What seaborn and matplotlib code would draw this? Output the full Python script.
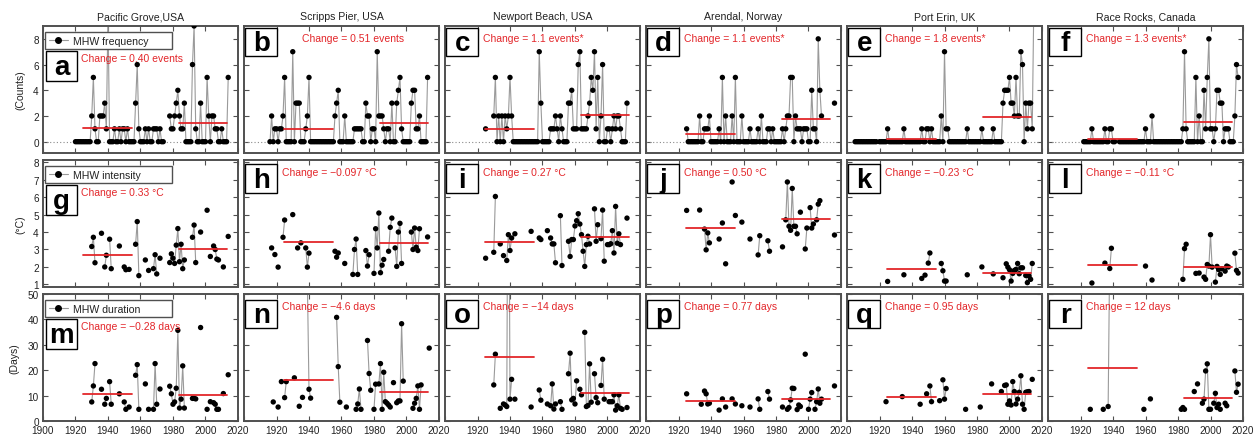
import numpy as np
import pandas as pd
import matplotlib.pyplot as plt
import seaborn as sns
from matplotlib.lines import Line2D
from matplotlib.patches import Rectangle

nan = np.nan

# ---- panel text ----
sites = ["Pacific Grove,USA", "Scripps Pier, USA", "Newport Beach, USA",
         "Arendal, Norway", "Port Erin, UK", "Race Rocks, Canada"]
letters = "abcdefghijklmnopqr"
row_legend = ["MHW frequency", "MHW intensity", "MHW duration"]
row_ylabel = ["(Counts)", "(\u00b0C)", "(Days)"]
change_freq = ["Change = 0.40 events", "Change = 0.51 events", "Change = 1.1 events*",
               "Change = 1.1 events*", "Change = 1.8 events*", "Change = 1.3 events*"]
change_int = ["Change = 0.33 \u00b0C", "Change = \u22120.097 \u00b0C", "Change = 0.27 \u00b0C",
              "Change = 0.50 \u00b0C", "Change = \u22120.23 \u00b0C", "Change = \u22120.11 \u00b0C"]
change_dur = ["Change = \u22120.28 days", "Change = \u22124.6 days", "Change = \u221214 days",
              "Change = 0.77 days", "Change = 0.95 days", "Change = 12 days"]

# ---- annual MHW counts (first year, values) ----
freq_start = [1920, 1916, 1925, 1925, 1905, 1922]
freq_a = [0, 0, 0, 0, 0, 0, 0, 0, 0, 0,
          2, 5, 1, 0, 0, 2, 2, 2, 3, 1,
          10, 0, 0, 0, 1, 0, 0, 1, 0, 1,
          1, 0, 1, 0, 0, 0, 0, 3, 6, 1,
          0, 0, 0, 1, 0, 1, 0, 0, 1, 1,
          1, 0, 1, 0, 0, nan, nan, nan, 2, 1,
          1, 2, 3, 4, 2, 1, 1, 3, 0, 0,
          0, 0, 6, 9, 1, 0, 0, 3, 0, 0,
          0, 5, 2, 0, 2, 2, 1, 1, 0, 0,
          1, 0, 0, 0, 5]
freq_b = [0, 2, 0, 1,
          1, 0, 1, 1, 2, 5, 0, 0, 0, 0,
          7, 0, 3, 3, 3, 0, 0, 0, 1, 2,
          5, 0, 0, 0, 0, 0, 0, 0, 0, 0,
          0, 0, 0, 0, 0, 0, 2, 3, 4, 0,
          0, 0, 2, 0, 0, 0, 0, 0, 1, 1,
          1, 1, 1, 0, 0, 3, 2, 2, 0, 1,
          1, 0, 7, 2, 2, 2, 1, 0, 1, 1,
          0, 3, 0, 0, 3, 4, 5, 1, 0, 0,
          0, 0, 0, 3, 4, 4, 1, 1, 2, 0,
          0, 0, 0, 5]
freq_c = [1, nan, nan, nan, nan,
          2, 5, 0, 2, 0, 2, 0, 2, 1, 2,
          5, 2, 0, 0, 0, 0, 0, 0, 0, 0,
          0, 0, 0, 0, 0, 0, 0, 0, 7, 3,
          0, 0, 0, 0, 0, 1, 1, 1, 2, 1,
          0, 2, 1, 0, 0, 0, 3, 3, 4, 1,
          1, 1, 6, 7, 1, 1, 1, 1, 2, 3,
          5, 4, 7, 1, 5, 0, 2, 6, 0, 0,
          1, 1, 0, 1, 2, 1, 2, 2, 1, 0,
          0, 0, 3]
freq_d = [1, 0, 0, 0, 0,
          0, 0, 0, 2, 0, 0, 1, 1, 1, 2,
          0, 0, 0, 0, 0, 1, 0, 5, 0, 2,
          0, 0, 0, 2, 0, 5, 0, 0, 0, 2,
          0, 0, 0, 0, 1, 0, 0, 0, 0, 1,
          0, 2, 0, 0, 0, 1, 1, 0, 1, 0,
          0, 0, 0, 0, 1, 0, 1, 2, 2, 5,
          5, 0, 2, 1, 1, 1, 0, 1, 1, 1,
          0, 0, 4, 1, 1, 0, 8, 4, 2, nan,
          nan, nan, nan, nan, nan, nan, 3]
freq_e = [0, 0, 0, 0, 0,
          0, 0, 0, 0, 0, 0, 0, 0, 0, nan,
          0, 0, 0, 0, 0, 1, 0, 0, 0, 0,
          0, 0, 0, 0, 0, 1, 0, 0, 0, 0,
          0, 0, 0, 0, 0, 0, 1, 0, 0, 1,
          1, 0, 1, 0, 0, 0, 0, 0, 2, 0,
          7, 1, 1, 0, 0, 0, 0, 0, 0, 0,
          0, 0, 0, 0, 1, 0, 0, 0, 0, 0,
          0, 0, 0, 1, 0, 0, 0, 0, 0, 0,
          1, 0, 0, 0, 0, 0, 3, 4, 4, 4,
          5, 3, 3, 2, 5, 2, 2, 7, 6, 0,
          3, 1, 3, 3, 1, 11]
freq_f = [0, 0, 0, 0, 0, 1, 0, 0,
          0, 0, 0, 0, 0, 1, 0, 0, 1, 1,
          0, 0, nan, nan, 0, 0, 0, 0, 0, 0,
          0, 0, 0, 0, 0, 0, 0, 0, 0, 0,
          1, 0, 0, 0, 2, 0, 0, 0, 0, 0,
          0, 0, 0, 0, 0, 0, 0, 0, 0, 0,
          0, 0, 0, 1, 7, 1, 0, 0, 0, 0,
          0, 5, 0, 2, 0, 0, 4, 1, 5, 8,
          1, 1, 0, 1, 4, 4, 3, 3, 0, 1,
          1, 1, 0, 0, 0, 2, 6, 5]

# ---- mean MHW intensity (deg C), years with events ----
int_g_years = [1930, 1931, 1932, 1936, 1938, 1939, 1941, 1942, 1947, 1950, 1951, 1953, 1957, 1958, 1959,
               1963, 1965, 1968, 1969, 1970, 1972, 1978, 1979, 1980, 1981, 1982, 1983, 1984, 1985, 1986,
               1987, 1992, 1993, 1994, 1997, 2001, 2003, 2005, 2006, 2007, 2008, 2011, 2014]
int_g = [3.17, 3.7, 2.24, 3.93, 2.0, 2.67, 3.59, 1.9, 3.2, 2.0, 1.84, 1.86, 3.3, 4.6, 1.5,
         2.4, 1.8, 1.9, 2.7, 1.6, 2.5, 2.25, 2.75, 2.5, 2.2, 3.25, 4.2, 2.3, 3.3, 1.9,
         2.4, 3.7, 4.4, 2.25, 4.0, 5.25, 2.6, 3.2, 3.0, 2.45, 2.4, 2.0, 3.75]
int_h_years = [1917, 1919, 1921, 1924, 1925, 1930, 1933, 1935, 1938, 1939, 1940, 1956, 1957, 1958, 1962,
               1967, 1968, 1969, 1970, 1975, 1976, 1977, 1980, 1981, 1982, 1983, 1984, 1985, 1986,
               1989, 1990, 1991, 1993, 1994, 1995, 1996, 1997, 2003, 2004, 2005, 2006, 2007, 2008, 2013]
int_h = [3.09, 2.71, 1.99, 3.7, 4.69, 5.0, 3.09, 3.38, 3.09, 1.99, 2.79, 2.9, 2.56, 2.8, 2.2,
         1.57, 3.0, 3.6, 1.57, 2.94, 2.05, 2.7, 1.63, 4.19, 3.09, 5.09, 1.67, 2.1, 2.43,
         2.9, 4.27, 4.8, 3.09, 2.03, 4.0, 4.5, 2.2, 4.0, 3.0, 4.23, 3.13, 2.94, 4.19, 3.72]
int_i_years = [1925, 1930, 1931, 1934, 1936, 1938, 1939, 1940, 1941, 1943, 1953, 1958, 1959, 1963, 1965,
               1966, 1967, 1968, 1971, 1972, 1976, 1977, 1978, 1979, 1980, 1981, 1982, 1983, 1984, 1985,
               1986, 1987, 1988, 1989, 1992, 1993, 1994, 1996, 1997, 1998, 2000, 2001, 2002, 2003, 2004,
               2005, 2006, 2007, 2008, 2012]
int_i = [2.5, 2.84, 6.04, 3.32, 2.65, 2.37, 3.85, 2.94, 3.66, 3.9, 4.04, 3.66, 3.57, 4.08, 3.66,
         3.32, 3.32, 2.24, 4.94, 2.08, 3.47, 2.6, 3.57, 3.57, 4.35, 4.65, 5.05, 4.46, 3.85, 2.9,
         2.03, 3.28, 3.76, 3.32, 5.33, 3.47, 4.42, 3.62, 5.26, 2.33, 3.28, 3.28, 3.33, 4.08, 2.8,
         5.47, 3.36, 3.9, 3.28, 4.8]
int_j_years = [1925, 1933, 1936, 1937, 1938, 1939, 1945, 1947, 1949, 1953, 1955, 1959, 1964, 1969, 1970,
               1975, 1976, 1984, 1986, 1987, 1988, 1989, 1990, 1991, 1992, 1993, 1995, 1998, 1999, 2001,
               2002, 2003, 2005, 2006, 2007, 2016]
int_j = [5.24, 5.26, 4.17, 2.98, 3.95, 3.38, 3.6, 4.52, 2.18, 6.87, 4.95, 4.57, 3.6, 2.69, 3.79,
         3.5, 2.9, 3.15, 4.7, 6.87, 4.33, 4.1, 6.5, 4.33, 4.33, 3.9, 5.14, 3.03, 4.23, 5.4,
         4.23, 4.46, 4.7, 5.6, 5.8, 3.83]
int_k_years = [1925, 1935, 1946, 1948, 1950, 1951, 1958, 1959, 1960, 1961, 1974, 1983, 1990, 1996, 1998,
               1999, 2000, 2001, 2002, 2003, 2004, 2005, 2006, 2007, 2008, 2010, 2011, 2012, 2013, 2014]
int_k = [1.17, 1.55, 1.34, 1.53, 2.22, 2.8, 2.2, 1.78, 1.19, 1.19, 1.55, 2.0, 1.6, 1.38, 2.18,
         1.99, 1.84, 1.19, 1.63, 1.8, 1.86, 2.2, 1.61, 1.95, 1.95, 1.51, 1.1, 1.48, 1.29, 2.2]
int_l_years = [1927, 1935, 1938, 1939, 1960, 1964, 1983, 1984, 1985, 1991, 1993, 1996, 1997, 1998, 1999,
               2000, 2001, 2003, 2004, 2005, 2006, 2007, 2009, 2010, 2011, 2015, 2016, 2017]
int_l = [1.08, 2.22, 1.91, 3.07, 2.05, 1.25, 1.29, 3.05, 3.3, 1.63, 1.65, 1.42, 1.29, 2.14, 2.05,
         3.85, 1.99, 1.13, 2.03, 1.85, 1.57, 1.9, 1.76, 2.05, 2.0, 2.79, 1.8, 1.65]

# ---- mean MHW duration (days), years with events ----
dur_m_years = int_g_years
dur_m = [7.5, 13.8, 22.6, 12.5, 6.6, 8.9, 15.5, 6.6, 10.7, 7.5, 4.6, 5.5, 18.0, 22.2, 4.6,
         14.6, 4.6, 4.6, 22.6, 6.6, 12.6, 13.7, 10.7, 6.6, 7.5, 12.9, 35.7, 5.1, 8.6, 21.7,
         5.1, 8.9, 8.9, 8.7, 36.8, 4.6, 7.6, 7.2, 6.6, 4.6, 4.6, 10.8, 18.2]
dur_n_years = [1918, 1921, 1923, 1925, 1926, 1931, 1934, 1936, 1939, 1940, 1941, 1957, 1958, 1959, 1963,
               1969, 1970, 1971, 1972, 1976, 1977, 1978, 1980, 1981, 1983, 1984, 1985, 1986, 1987, 1988,
               1989, 1990, 1992, 1994, 1995, 1996, 1997, 1998, 2004, 2005, 2006, 2007, 2008, 2009, 2014]
dur_n = [7.5, 5.5, 15.5, 9.2, 15.5, 17.0, 5.8, 9.3, 55.0, 12.5, 9.0, 40.8, 21.4, 7.4, 5.5,
         4.6, 6.7, 12.6, 4.6, 31.7, 18.7, 12.1, 4.6, 14.5, 14.6, 22.6, 4.6, 19.2, 7.6, 7.0,
         6.3, 5.5, 15.1, 7.2, 7.9, 7.9, 38.3, 15.7, 5.0, 7.0, 8.9, 13.8, 4.6, 14.2, 28.7]
dur_o_years = [1930, 1931, 1934, 1936, 1937, 1938, 1939, 1940, 1941, 1943, 1953, 1958, 1959, 1963, 1965,
               1966, 1967, 1968, 1971, 1972, 1976, 1977, 1978, 1979, 1980, 1981, 1983, 1984, 1986, 1987,
               1988, 1989, 1990, 1992, 1993, 1994, 1996, 1997, 1998, 2001, 2002, 2003, 2004, 2005, 2006,
               2007, 2008, 2009, 2012]
dur_o = [14.2, 26.3, 5.0, 6.7, 6.3, 5.7, 150.0, 8.6, 16.4, 8.6, 5.5, 12.2, 8.2, 6.7, 6.0,
         14.6, 4.7, 6.7, 7.6, 4.6, 18.6, 26.7, 8.3, 8.9, 6.7, 15.8, 12.5, 10.3, 34.9, 5.7,
         6.1, 22.5, 7.4, 18.6, 9.2, 7.2, 14.0, 24.3, 8.6, 7.6, 7.6, 7.6, 10.3, 4.3, 6.0,
         10.3, 5.0, 4.6, 5.3]
dur_p_years = [1925, 1934, 1936, 1937, 1938, 1939, 1945, 1947, 1949, 1953, 1955, 1959, 1964, 1969, 1970,
               1975, 1976, 1984, 1987, 1988, 1989, 1990, 1991, 1993, 1994, 1995, 1998, 2000, 2001, 2002,
               2004, 2005, 2006, 2007, 2008, 2016]
dur_p = [10.7, 6.6, 11.8, 10.7, 6.7, 7.0, 4.3, 8.7, 5.5, 8.7, 6.7, 6.0, 5.5, 8.7, 4.6,
         11.6, 8.6, 5.5, 4.6, 5.3, 8.3, 12.9, 12.8, 4.5, 6.3, 5.7, 26.3, 4.6, 8.6, 11.2,
         4.6, 7.6, 12.6, 7.0, 8.6, 13.8]
dur_q_years = [1924, 1934, 1945, 1949, 1951, 1952, 1957, 1959, 1960, 1961, 1973, 1982, 1989, 1995, 1997,
               1998, 1999, 2000, 2001, 2002, 2003, 2004, 2005, 2006, 2007, 2008, 2009, 2010, 2011, 2012,
               2014]
dur_q = [7.6, 9.6, 6.6, 10.7, 13.8, 7.6, 8.0, 16.2, 8.6, 12.8, 4.6, 5.5, 14.6, 11.6, 14.0,
         14.2, 6.6, 7.9, 6.3, 15.5, 11.6, 6.7, 8.6, 11.3, 17.8, 6.6, 4.6, 11.3, 11.5, 11.6,
         16.4]
dur_r_years = [1926, 1934, 1937, 1938, 1959, 1963, 1982, 1983, 1984, 1990, 1992, 1995, 1996, 1997, 1998,
               1999, 2000, 2002, 2003, 2004, 2005, 2006, 2009, 2010, 2015, 2016, 2017]
dur_r = [4.6, 4.6, 5.7, 69.0, 4.6, 8.7, 4.6, 5.3, 4.6, 11.6, 14.6, 7.0, 8.6, 19.7, 22.5,
         4.6, 4.6, 7.0, 10.9, 5.3, 6.6, 4.6, 7.0, 6.0, 19.7, 11.3, 14.5]

# ---- period means (1925-1954 and 1984-2013) ----
freq_early = [1.08, 0.96, 0.99, 0.60, 0.18, 0.18]
freq_late = [1.47, 1.46, 2.06, 1.74, 1.95, 1.51]
int_early = [2.67, 3.45, 3.45, 4.23, 1.89, 2.10]
int_late = [3.00, 3.36, 3.74, 4.73, 1.67, 1.97]
dur_early = [10.5, 16.2, 25.0, 8.0, 9.6, 21.0]
dur_late = [10.2, 11.6, 10.9, 8.7, 10.7, 8.9]
early_span = [1924.5, 1954.5]
late_span = [1983.5, 2013.5]

freq_vals = [freq_a, freq_b, freq_c, freq_d, freq_e, freq_f]
freq_years = [list(range(s, s + len(v))) for s, v in zip(freq_start, freq_vals)]
int_years = [int_g_years, int_h_years, int_i_years, int_j_years, int_k_years, int_l_years]
int_vals = [int_g, int_h, int_i, int_j, int_k, int_l]
dur_years = [dur_m_years, dur_n_years, dur_o_years, dur_p_years, dur_q_years, dur_r_years]
dur_vals = [dur_m, dur_n, dur_o, dur_p, dur_q, dur_r]

rows = [
    (freq_years, freq_vals, freq_early, freq_late, change_freq),
    (int_years, int_vals, int_early, int_late, change_int),
    (dur_years, dur_vals, dur_early, dur_late, change_dur),
]
row_ylim = [(-0.88, 9.0), (0.85, 8.13), (0, 50)]
row_yticks = [[0, 2, 4, 6, 8], [1, 2, 3, 4, 5, 6, 7, 8], [0, 10, 20, 30, 40, 50]]

RED = "#e3262a"
GREY = "#9a9a9a"
FRAME = "#505050"

sns.set_theme(style="ticks")
plt.rcParams["font.family"] = ["Liberation Sans", "DejaVu Sans"]
plt.rcParams["axes.unicode_minus"] = True

fig, axes = plt.subplots(3, 6, figsize=(12.58, 4.39), dpi=100)
fig.subplots_adjust(left=43 / 1258, right=1243 / 1258, top=1 - 27 / 439, bottom=1 - 422 / 439,
                    wspace=0.031, hspace=0.055)

xticks = [1900, 1920, 1940, 1960, 1980, 2000, 2020]

for r, (yrs_list, vals_list, early, late, changes) in enumerate(rows):
    for c in range(6):
        ax = axes[r, c]
        s = pd.Series(vals_list[c], index=yrs_list[c], dtype=float)
        s = s.reindex(range(min(yrs_list[c]), max(yrs_list[c]) + 1))
        if r == 0:
            ax.axhline(0, color="#8a8a8a", ls=(0, (1, 2)), lw=0.8, zorder=1)
        # connecting line (breaks at missing years)
        ax.plot(s.index, s.values, color=GREY, lw=0.8, zorder=2)
        pts = s.dropna().rename("value").rename_axis("year").reset_index()
        sns.scatterplot(data=pts, x="year", y="value", color="black", s=15,
                        edgecolor="none", ax=ax, zorder=3, legend=False, clip_on=True)
        # period means
        ax.plot(early_span, [early[c], early[c]], color=RED, lw=1.3, zorder=4)
        ax.plot(late_span, [late[c], late[c]], color=RED, lw=1.3, zorder=4)

        ax.set_xlim(1900, 2020)
        ax.set_ylim(*row_ylim[r])
        ax.set_xticks(xticks)
        ax.set_yticks(row_yticks[r])
        ax.set_xlabel("")
        ax.set_ylabel("")
        ax.tick_params(direction="in", length=3.5, width=0.8, color=FRAME,
                       top=True, right=True, labelsize=7.2, pad=3, labelcolor="#222222")
        for sp in ax.spines.values():
            sp.set_color(FRAME)
            sp.set_linewidth(1.4)
        if r < 2:
            ax.set_xticklabels([])
        elif c > 0:
            ax.set_xticklabels([""] + [str(t) for t in xticks[1:]])
        if c > 0:
            ax.set_yticklabels([])
        else:
            ax.set_ylabel(row_ylabel[r], fontsize=7.5, labelpad=6, color="#222222")

        if r == 0:
            ax.set_title(sites[c], fontsize=7.6, pad=5, color="#222222")

        # panel letter box
        if c == 0:
            bx, by, bw, bh = 0.015, 0.57, 0.16, 0.235
            tx, ty = 0.195, 0.75
            handle = Line2D([], [], color=GREY, lw=0.8, marker="o", ms=4,
                            mfc="black", mec="black")
            leg = ax.legend([handle], [row_legend[r]], loc="lower left",
                            bbox_to_anchor=(0.01, 0.815, 0.65, 0.165), mode="expand",
                            borderaxespad=0, fontsize=7.6, frameon=True, fancybox=False,
                            edgecolor=FRAME, framealpha=1, handlelength=1.8,
                            handletextpad=0.5, borderpad=0.35)
            leg.get_frame().set_linewidth(1.0)
            for t in leg.get_texts():
                t.set_color("#222222")
        else:
            top = [0.985, 0.965, 0.955][r]
            bx, by, bw, bh = 0.006, top - 0.225, 0.165, 0.225
            tx, ty = (0.30 if (r == 0 and c == 1) else 0.195), 0.905
        ax.add_patch(Rectangle((bx, by), bw, bh, transform=ax.transAxes, fc="white",
                               ec="black", lw=1.0, zorder=6, clip_on=False))
        ax.text(bx + bw / 2, by + bh / 2 - 0.01, letters[r * 6 + c], transform=ax.transAxes,
                ha="center", va="center", fontsize=20, fontweight="bold", color="black", zorder=7)
        ax.text(tx, ty, changes[c], transform=ax.transAxes, ha="left", va="center",
                fontsize=7.5, color=RED, zorder=7)

fig.savefig("out.png", dpi=100, facecolor="white")
